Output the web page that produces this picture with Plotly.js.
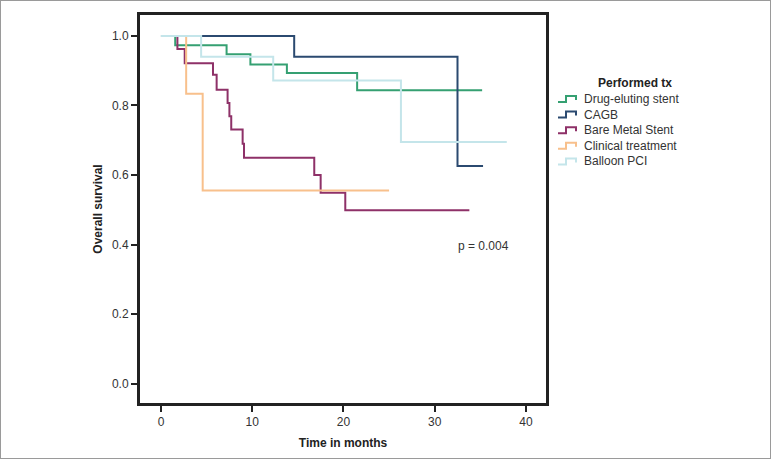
<!DOCTYPE html>
<html>
<head>
<meta charset="utf-8">
<script src="https://cdn.plot.ly/plotly-3.0.1.min.js"></script>
<style>
  html, body { margin: 0; padding: 0; background: #fff; }
  #wrap { width: 771px; height: 459px; box-sizing: border-box; border: 1px solid #9a9a9a; }
  #chart { width: 769px; height: 457px; }
</style>
</head>
<body>
<div id="wrap"><div id="chart"></div></div>
<script>
// Curvas de Kaplan-Meier (tiempo en meses, sobrevida)
const desT = [0, 1.56, 7.19, 9.8, 13.8, 21.5, 35.2];
const desS = [1, 0.973, 0.947, 0.918, 0.893, 0.844, 0.844];

const cagbT = [0, 14.6, 32.5, 35.3];
const cagbS = [1, 0.94, 0.626, 0.626];

const bmsT = [0, 1.8, 2.6, 5.7, 6.1, 7.3, 7.5, 7.7, 8.95, 9.1, 16.8, 17.5, 20.2, 33.8];
const bmsS = [1, 0.962, 0.921, 0.888, 0.845, 0.807, 0.769, 0.731, 0.690, 0.650, 0.600, 0.549, 0.499, 0.499];

const clinT = [0, 2.76, 4.57, 25.0];
const clinS = [1, 0.834, 0.556, 0.556];

const pciT = [0, 4.4, 12.3, 26.3, 37.9];
const pciS = [1, 0.94, 0.872, 0.695, 0.695];

const nombres = ["Drug-eluting stent", "CAGB", "Bare Metal Stent", "Clinical treatment", "Balloon PCI"];
const colores = ["#35a072", "#2b4a70", "#8e3168", "#f8c08c", "#c4e5ea"];
const series = [[desT, desS], [cagbT, cagbS], [bmsT, bmsS], [clinT, clinS], [pciT, pciS]];

const tituloLeyenda = "Performed tx";
const pValor = "p = 0.004";

const fuente = "Liberation Sans, Arial, sans-serif";

// geometria del area de trazado (px dentro del div)
const W = 769, H = 457;
const M = { l: 139, r: 224, t: 14, b: 55 };
const pw = W - M.l - M.r, ph = H - M.t - M.b;
const px = (x) => (x - M.l) / pw;       // px -> paper x
const py = (y) => 1 - (y - M.t) / ph;   // px -> paper y

const trazas = series.map(([t, s], i) => ({
  type: "scatter", mode: "lines",
  x: t, y: s,
  name: nombres[i],
  line: { shape: "hv", color: colores[i], width: 2 },
  showlegend: false,
}));

// leyenda a mano con simbolo escalonado, como en la figura original
const legX = 557, legY0 = 98, legDy = 15.6;
const shapes = [];
const annotations = [{
  x: px(634), y: py(82), xref: "paper", yref: "paper", text: tituloLeyenda, showarrow: false,
  font: { family: fuente, size: 12, color: "#222", weight: "bold" }, xanchor: "center", yanchor: "middle",
}];
nombres.forEach((n, i) => {
  const yc = legY0 + i * legDy;
  const pts = [[legX, yc + 3], [legX + 8, yc + 3], [legX + 8, yc - 3], [legX + 18, yc - 3], [legX + 18, yc + 1]];
  shapes.push({
    type: "path", xref: "paper", yref: "paper",
    path: pts.map(([a, b], k) => (k ? "L" : "M") + px(a) + "," + py(b)).join(" "),
    line: { color: colores[i], width: 2 },
  });
  annotations.push({
    x: px(581), y: py(yc), xref: "paper", yref: "paper", text: n, showarrow: false,
    xanchor: "left", yanchor: "middle",
    font: { family: fuente, size: 12, color: "#333" },
  });
});
annotations.push({
  x: 35.4, y: 0.396, xref: "x", yref: "y", text: pValor, showarrow: false,
  font: { family: fuente, size: 12, color: "#333" },
});

const eje = {
  showline: true, mirror: true, linewidth: 3, linecolor: "#222",
  ticks: "outside", ticklen: 6, tickwidth: 2, tickcolor: "#222",
  showgrid: false, zeroline: false,
  tickfont: { family: fuente, size: 12, color: "#333" },
};

Plotly.newPlot("chart", trazas, {
  width: W, height: H,
  margin: M,
  paper_bgcolor: "#fff", plot_bgcolor: "#fff",
  font: { family: fuente, size: 12, color: "#333" },
  showlegend: false,
  xaxis: {
    ...eje, range: [-2.3, 42.2], tickvals: [0, 10, 20, 30, 40],
    title: { text: "Time in months", font: { family: fuente, size: 12, color: "#222", weight: "bold" }, standoff: 11 },
  },
  yaxis: {
    ...eje, range: [-0.055, 1.06], tickvals: [0, 0.2, 0.4, 0.6, 0.8, 1.0], tickformat: ".1f",
    title: { text: "Overall survival", font: { family: fuente, size: 12, color: "#222", weight: "bold" }, standoff: 7 },
  },
  shapes,
  annotations,
}, { displayModeBar: false });
</script>
</body>
</html>
